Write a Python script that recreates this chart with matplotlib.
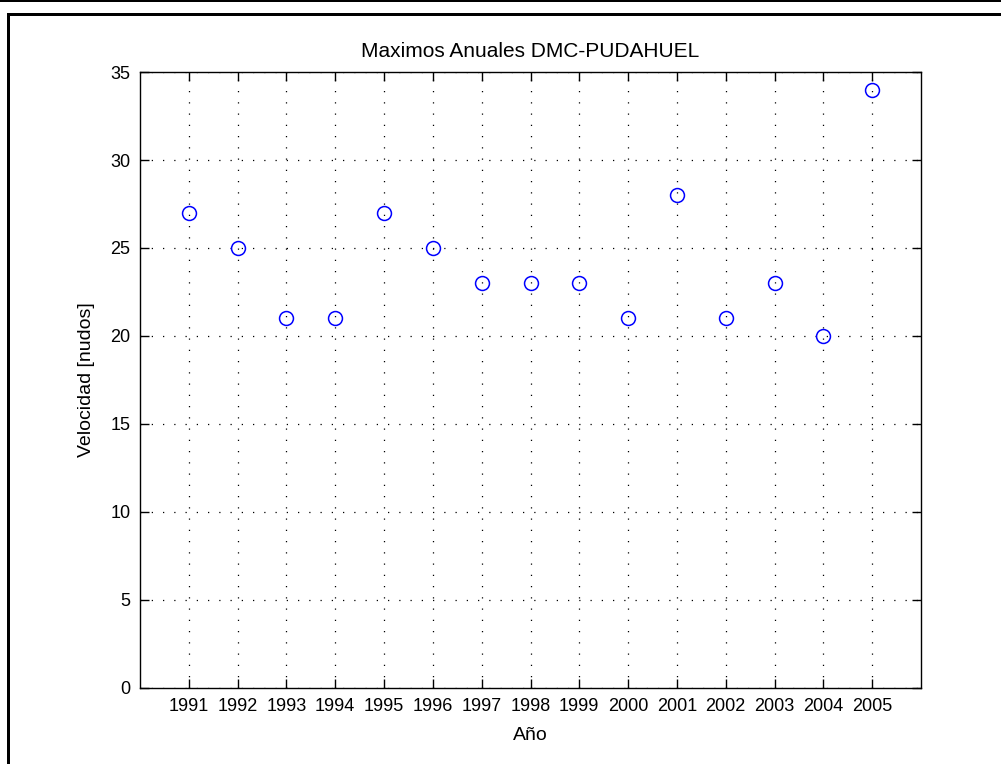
import matplotlib
matplotlib.use("Agg")
import matplotlib.pyplot as plt
from matplotlib.patches import Rectangle

# annual maxima, DMC-PUDAHUEL
years = [1991, 1992, 1993, 1994, 1995, 1996, 1997, 1998, 1999, 2000,
         2001, 2002, 2003, 2004, 2005]
vel = [27, 25, 21, 21, 27, 25, 23, 23, 23, 21, 28, 21, 23, 20, 34]
yticks = [0, 5, 10, 15, 20, 25, 30, 35]

W, H = 1001, 764
plt.rcParams['font.family'] = ['Liberation Sans', 'DejaVu Sans']

fig = plt.figure(figsize=(W / 100, H / 100), dpi=100)
ax = fig.add_axes([140 / W, 1 - 688 / H, 781 / W, 616 / H])

ax.plot(years, vel, 'o', mfc='none', mec='blue', ms=10, mew=1.1)

ax.set_xlim(1990, 2006)
ax.set_ylim(0, 35)
ax.set_xticks(years)
ax.set_yticks(yticks)
ax.tick_params(direction='in', length=6.5, width=1.0, top=True, right=True,
               labelsize=13, pad=7)
ax.grid(True, color='black', linestyle=(0, (1, 8)), linewidth=0.9)
for s in ax.spines.values():
    s.set_linewidth(1.0)

ax.set_title('Maximos Anuales DMC-PUDAHUEL', fontsize=15, pad=11)
ax.set_xlabel('Año', fontsize=14, labelpad=9)
ax.set_ylabel('Velocidad [nudos]', fontsize=14, labelpad=11)

# frame around the figure (top band, top line and left line)
def px_rect(x0, y0, w, h):
    fig.add_artist(Rectangle((x0 / W, 1 - (y0 + h) / H), w / W, h / H,
                             transform=fig.transFigure, color='black', lw=0))

px_rect(0, 0, W, 2)
px_rect(7, 13, W - 7, 2.5)
px_rect(7, 13, 2.5, H - 13)

fig.savefig('out.png', dpi=100)
